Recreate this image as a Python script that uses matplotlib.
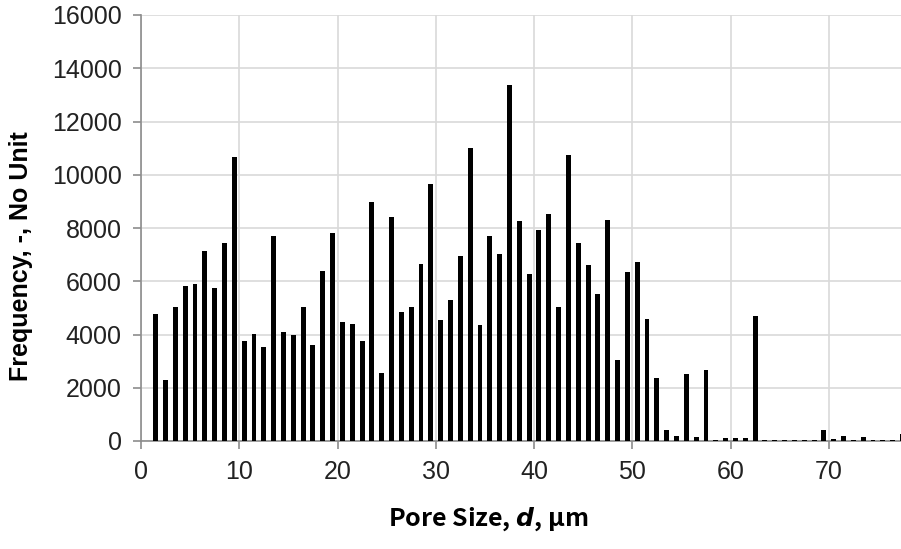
import matplotlib.pyplot as plt
import numpy as np

# pore size bins (bar centres sit half a bin to the right of the integer)
pore_size = np.arange(1, 78) + 0.5
frequency = [
    4770, 2290, 5020, 5830, 5890, 7120, 5760, 7430, 10650, 3770,
    4020, 3540, 7690, 4100, 3980, 5040, 3590, 6370, 7810, 4480,
    4410, 3740, 8980, 2560, 8420, 4860, 5040, 6660, 9650, 4530,
    5280, 6950, 11000, 4340, 7710, 7020, 13370, 8270, 6280, 7910,
    8540, 5020, 10750, 7420, 6600, 5520, 8310, 3050, 6340, 6710,
    4590, 2380, 400, 175, 2530, 140, 2680, 50, 120, 120,
    100, 4680, 40, 40, 40, 40, 40, 40, 400, 80,
    175, 50, 150, 50, 50, 50, 275,
]
x_ticks = [0, 10, 20, 30, 40, 50, 60, 70]
y_ticks = [0, 2000, 4000, 6000, 8000, 10000, 12000, 14000, 16000]

plt.rcParams['mathtext.fontset'] = 'custom'
plt.rcParams['mathtext.it'] = 'DejaVu Sans:italic:bold'
plt.rcParams['mathtext.rm'] = 'Noto Sans CJK SC:bold'

fig = plt.figure(figsize=(9.01, 5.49), dpi=100)
ax = fig.add_axes([141 / 901, 108 / 549, 1 - 141 / 901, 426 / 549])

ax.bar(pore_size, frequency, width=0.5, color='black', zorder=3)

ax.set_xlim(0, 77.35)
ax.set_ylim(0, 16000)
ax.set_xticks(x_ticks)
ax.set_yticks(y_ticks)
ax.grid(True, color='#d9d9d9', linewidth=1.2, zorder=0)

for side in ['top', 'right']:
    ax.spines[side].set_visible(False)
for side in ['left', 'bottom']:
    ax.spines[side].set_color('#8c8c8c')
    ax.spines[side].set_linewidth(1.2)

ax.tick_params(axis='both', colors='#8c8c8c', length=6, width=1.2,
               labelcolor='#222222', labelsize=18)
for lbl in ax.get_xticklabels() + ax.get_yticklabels():
    lbl.set_family(['Liberation Sans Narrow', 'Liberation Sans'])
ax.tick_params(axis='x', pad=8)
ax.tick_params(axis='y', pad=8)

ax.set_ylabel('Frequency, -, No Unit', fontsize=18, fontweight='bold',
              family='Liberation Sans')
ax.yaxis.set_label_coords(-0.142, 0.434)
ax.set_xlabel('Pore Size, $\\mathit{d}$, µm', fontsize=18, fontweight='bold',
              family='Noto Sans CJK SC')
ax.xaxis.set_label_coords(0.4566, -0.152)

fig.savefig('out.png', dpi=100)
